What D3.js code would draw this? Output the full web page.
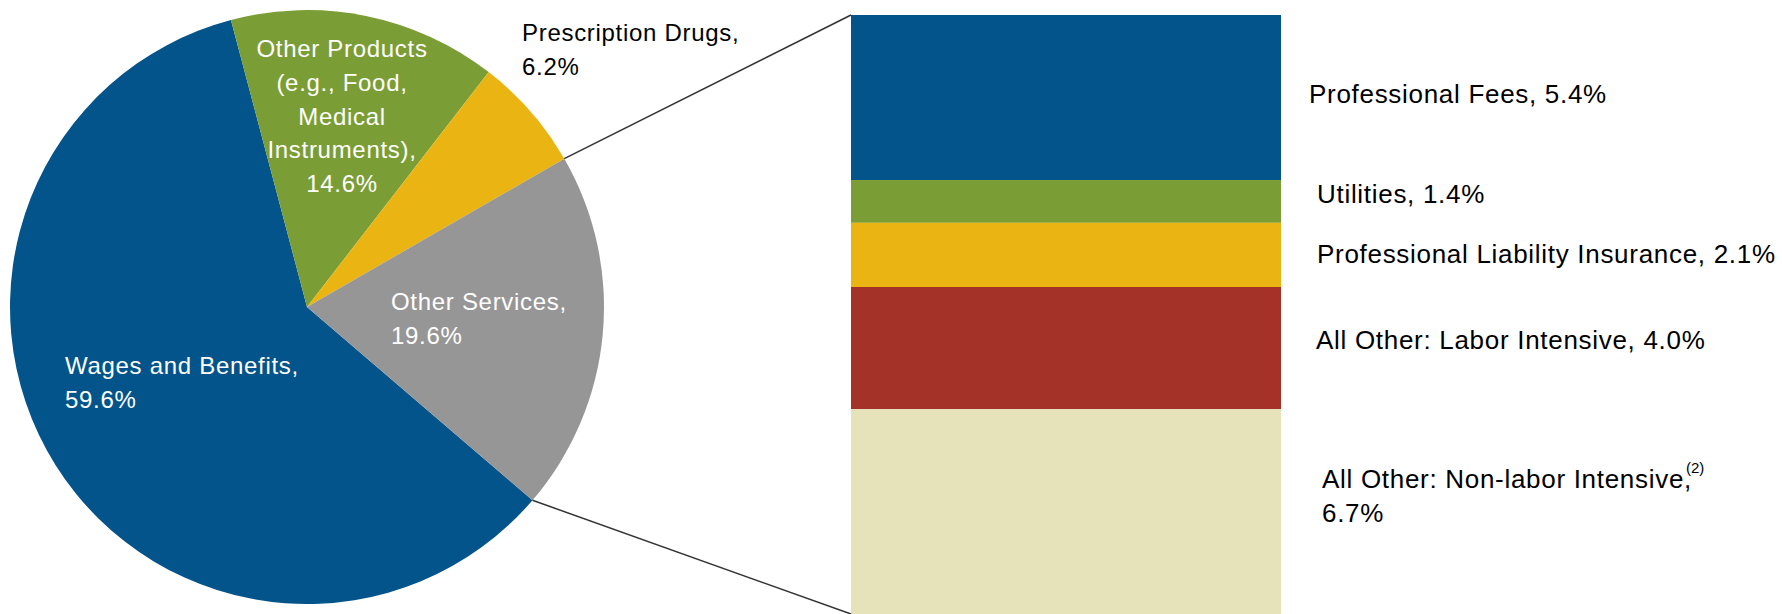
<!DOCTYPE html>
<html>
<head>
<meta charset="utf-8">
<script src="https://cdn.jsdelivr.net/npm/d3@7"></script>
<style>
  body { margin: 0; background: #fff; }
  text { font-family: "Liberation Sans", Arial, sans-serif; letter-spacing: 0.7px; }
</style>
</head>
<body>
<script>
// pie data
var pieNames = ['Wages and Benefits,', 'Other Products (e.g., Food, Medical Instruments),', 'Prescription Drugs,', 'Other Services,']
var pieValues = [59.6, 14.6, 6.2, 19.6]
var pieLabels = [
  ['Wages and Benefits,', '59.6%'],
  ['Other Products', '(e.g., Food,', 'Medical', 'Instruments),', '14.6%'],
  ['Prescription Drugs,', '6.2%'],
  ['Other Services,', '19.6%']
]
var pieColors = ['#03548A', '#7B9D35', '#EAB412', '#969696']
var pieTextColors = ['#fff', '#fff', '#000', '#fff']

// breakdown of other services
var barNames = ['Professional Fees', 'Utilities', 'Professional Liability Insurance', 'All Other: Labor Intensive', 'All Other: Non-labor Intensive']
var barValues = [5.4, 1.4, 2.1, 4.0, 6.7]
var barLabels = [
  ['Professional Fees, 5.4%'],
  ['Utilities, 1.4%'],
  ['Professional Liability Insurance, 2.1%'],
  ['All Other: Labor Intensive, 4.0%'],
  ['All Other: Non-labor Intensive,', '6.7%']
]
var barNotes = ['', '', '', '', '(2)']
var barColors = ['#03548A', '#7B9D35', '#EAB412', '#A53228', '#E6E2BA']

var screen = {width: 1782, height: 614}

var svg = d3.select('body').append('svg')
  .attr('width', screen.width)
  .attr('height', screen.height)
  .style('display', 'block')

// pie
var cx = 307, cy = 307, r = 297
var start = 130.6 * Math.PI / 180

var pie = d3.pie()
  .sort(null)
  .startAngle(start)
  .endAngle(start + 2 * Math.PI)

var arcs = pie(pieValues)
var arc = d3.arc().innerRadius(0).outerRadius(r)

var pieG = svg.append('g')
  .attr('transform', 'translate(' + cx + ',' + cy + ')')

pieG.selectAll('path')
  .data(arcs)
  .enter()
  .append('path')
  .attr('d', arc)
  .attr('fill', function(d, i) { return pieColors[i] })

// pie labels (x, first baseline, anchor)
var pieLabelPos = [
  {x: 65, y: 374, anchor: 'start'},
  {x: 342, y: 57, anchor: 'middle'},
  {x: 522, y: 41, anchor: 'start'},
  {x: 391, y: 310, anchor: 'start'}
]

svg.append('g')
  .selectAll('text')
  .data(pieLabels)
  .enter()
  .append('text')
  .attr('x', function(d, i) { return pieLabelPos[i].x })
  .attr('y', function(d, i) { return pieLabelPos[i].y })
  .attr('text-anchor', function(d, i) { return pieLabelPos[i].anchor })
  .attr('fill', function(d, i) { return pieTextColors[i] })
  .style('font-size', '24px')
  .each(function(lines, i) {
    var t = d3.select(this)
    lines.forEach(function(line, j) {
      t.append('tspan')
        .attr('x', pieLabelPos[i].x)
        .attr('dy', j == 0 ? 0 : 33.8)
        .text(line)
    })
  })

// bar scale
var barX = 851, barW = 430
var total = d3.sum(barValues)
var yScale = d3.scaleLinear()
  .domain([0, total])
  .range([15, 614])

var stacked = []
var acc = 0
barValues.forEach(function(v, i) {
  stacked.push({y0: acc, y1: acc + v, i: i})
  acc += v
})

svg.append('g')
  .selectAll('rect')
  .data(stacked)
  .enter()
  .append('rect')
  .attr('x', barX)
  .attr('width', barW)
  .attr('y', function(d) { return yScale(d.y0) })
  .attr('height', function(d) { return yScale(d.y1) - yScale(d.y0) })
  .attr('fill', function(d) { return barColors[d.i] })

// connector lines from the split slice to the bar
var split = arcs[3]
function edge(a) {
  return [cx + r * Math.sin(a), cy - r * Math.cos(a)]
}
var p0 = edge(split.startAngle), p1 = edge(split.endAngle)

svg.append('line')
  .attr('x1', p0[0]).attr('y1', p0[1])
  .attr('x2', barX).attr('y2', yScale(0))
  .attr('stroke', '#333').attr('stroke-width', 1.5)
svg.append('line')
  .attr('x1', p1[0]).attr('y1', p1[1])
  .attr('x2', barX).attr('y2', yScale(total))
  .attr('stroke', '#333').attr('stroke-width', 1.5)

// bar labels
var barLabelX = [1309, 1317, 1317, 1316, 1322]
var barLabelDy = [5, 2, 8, 1, -24]

svg.append('g')
  .selectAll('text')
  .data(stacked)
  .enter()
  .append('text')
  .attr('x', function(d) { return barLabelX[d.i] })
  .attr('y', function(d) { return (yScale(d.y0) + yScale(d.y1)) / 2 + barLabelDy[d.i] })
  .attr('fill', '#000')
  .style('font-size', '26px')
  .each(function(d) {
    var t = d3.select(this)
    barLabels[d.i].forEach(function(line, j) {
      t.append('tspan')
        .attr('x', barLabelX[d.i])
        .attr('dy', j == 0 ? 0 : (barNotes[d.i] ? 49 : 34))
        .text(line)
      // footnote marker sits just after the first line
      if (j == 0 && barNotes[d.i]) {
        t.append('tspan')
          .attr('dx', -6)
          .attr('dy', -15)
          .style('font-size', '15px')
          .style('letter-spacing', '0px')
          .text(barNotes[d.i])
      }
    })
  })
</script>
</body>
</html>
